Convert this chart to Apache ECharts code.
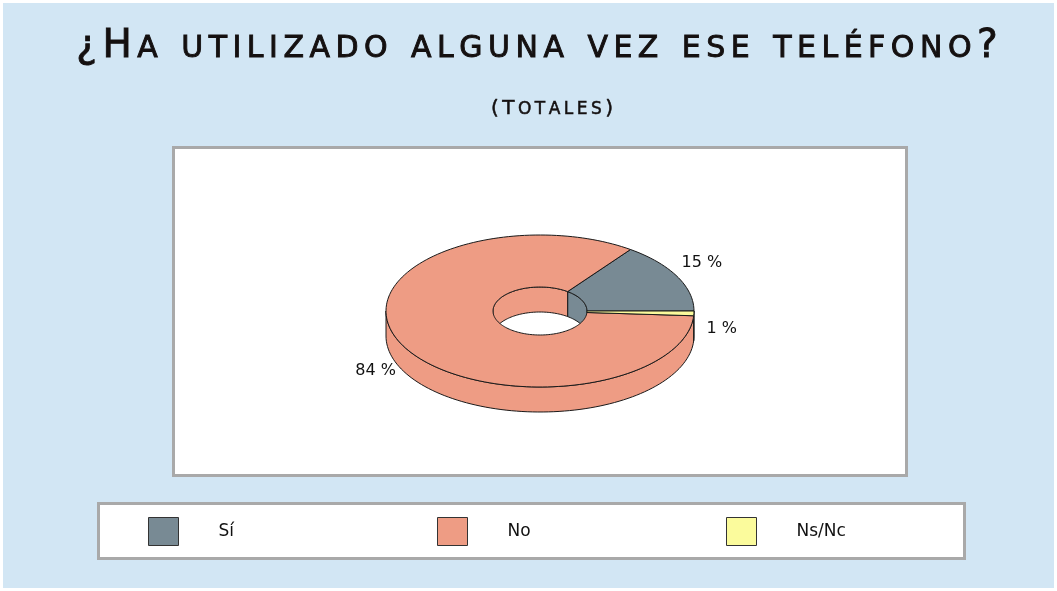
<!DOCTYPE html>
<html>
<head>
<meta charset="utf-8">
<script src="https://cdn.jsdelivr.net/npm/echarts@6/dist/echarts.min.js"></script>
<style>
  html, body { margin: 0; padding: 0; }
  #chart { width: 1057px; height: 591px; }
</style>
</head>
<body>
<div id="chart"></div>
<script>
const titleText = '¿Ha utilizado alguna vez ese teléfono?'
const subtitleText = '(Totales)'
const categories = ['Sí', 'No', 'Ns/Nc']
const values = [15, 84, 1]
const colors = ['#788a94', '#ee9c84', '#fbfb9c']

// donut geometry (pixels)
const CX = 540, CY = 311
const RX = 154, RY = 76
const IRX = 47, IRY = 24
const THICK = 25

const total = values.reduce((a, b) => a + b, 0)

// fake small caps, one rich token per character so the letters can be spaced out
function smallCaps(s) {
  return Array.from(s).map(ch =>
    /\p{Ll}/u.test(ch) ? '{s|' + ch.toUpperCase() + '}' : '{b|' + ch + '}'
  ).join('')
}

function capsRich(big, small, spacing, lift, weight) {
  const base = {
    fontFamily: 'DejaVu Sans', fontWeight: 'normal', color: '#141010', verticalAlign: 'bottom',
    textBorderColor: '#141010', textBorderWidth: weight
  }
  const half = spacing / 2
  return {
    b: Object.assign({}, base, { fontSize: big, padding: [0, half, 0, half] }),
    s: Object.assign({}, base, { fontSize: small, padding: [0, half, lift, half] })
  }
}

function pt(rx, ry, deg, dz) {
  const t = deg * Math.PI / 180
  return [CX + rx * Math.cos(t), CY - ry * Math.sin(t) + dz]
}

function arc(rx, ry, a, b, dz) {
  const n = Math.max(2, Math.ceil(Math.abs(b - a) / 2))
  const pts = []
  for (let i = 0; i <= n; i++) pts.push(pt(rx, ry, a + (b - a) * i / n, dz))
  return pts
}

const line = { stroke: '#1a1a1a', lineWidth: 1 }

function renderSlice(params, api) {
  const i = params.dataIndex
  let before = 0
  for (let k = 0; k < i; k++) before += values[k]
  const a = before / total * 360
  const b = (before + values[i]) / total * 360
  const fill = colors[i]
  const children = []

  // outer wall, front half only
  let s = Math.max(a, 180), e = Math.min(b, 360)
  if (e > s) {
    children.push({
      type: 'polygon', z2: 2,
      shape: { points: arc(RX, RY, s, e, 0).concat(arc(RX, RY, e, s, THICK)) },
      style: Object.assign({ fill }, line)
    })
  }
  // inner wall of the hole, back half only
  s = Math.max(a, 0); e = Math.min(b, 180)
  if (e > s) {
    children.push({
      type: 'polygon', z2: 2,
      shape: { points: arc(IRX, IRY, s, e, 0).concat(arc(IRX, IRY, e, s, THICK)) },
      style: Object.assign({ fill }, line)
    })
  }
  // top face
  children.push({
    type: 'polygon', z2: 10,
    shape: { points: arc(RX, RY, a, b, 0).concat(arc(IRX, IRY, b, a, 0)) },
    style: Object.assign({ fill }, line)
  })
  // label outside the slice
  const mid = (a + b) / 2
  const sn = Math.sin(mid * Math.PI / 180)
  const p = pt(RX * 1.18, RY * 1.4, mid, sn < 0 ? THICK * 0.6 : 0)
  children.push({
    type: 'text', z2: 20,
    style: {
      x: p[0], y: p[1],
      text: values[i] + ' %',
      align: 'center', verticalAlign: 'middle',
      fill: '#111',
      font: '16px "DejaVu Sans", sans-serif'
    }
  })
  return { type: 'group', children }
}

const chart = echarts.init(document.getElementById('chart'))

chart.setOption({
  backgroundColor: '#ffffff',
  animation: false,
  title: [
    {
      text: smallCaps(titleText),
      left: 532,
      textAlign: 'center',
      top: 22,
      textStyle: { rich: capsRich(39, 30, 5.5, 2, 0.9) }
    },
    {
      text: smallCaps(subtitleText),
      left: 547,
      textAlign: 'center',
      top: 94,
      textStyle: { rich: capsRich(20, 17, 3.5, 1, 0.5) }
    }
  ],
  graphic: [
    { type: 'rect', z: -10, shape: { x: 3, y: 3, width: 1051, height: 585 }, style: { fill: '#d2e6f4' } },
    { type: 'rect', z: -9, shape: { x: 173.5, y: 147.5, width: 733, height: 328 }, style: { fill: '#fff', stroke: '#a9a9a9', lineWidth: 3 } },
    { type: 'rect', z: -9, shape: { x: 98.5, y: 503.5, width: 866, height: 55 }, style: { fill: '#fff', stroke: '#a9a9a9', lineWidth: 3 } }
  ],
  legend: categories.map((c, i) => ({
    data: [{ name: c, itemStyle: { color: colors[i], borderColor: '#333', borderWidth: 1 } }],
    left: 143 + 289 * i,
    top: 512,
    icon: 'rect',
    itemWidth: 30,
    itemHeight: 28,
    selectedMode: false,
    textStyle: {
      fontSize: 17,
      fontFamily: '"DejaVu Sans", sans-serif',
      color: '#111',
      padding: [0, 0, 0, 35]
    }
  })),
  series: [
    {
      type: 'custom',
      name: 'Totales',
      coordinateSystem: 'none',
      data: values.map((v, i) => ({ name: categories[i], value: v })),
      renderItem: renderSlice
    }
  ].concat(categories.map((c, i) => ({
    type: 'custom',
    name: c,
    coordinateSystem: 'none',
    data: [],
    itemStyle: { color: colors[i] },
    renderItem: () => null
  })))
})
</script>
</body>
</html>
